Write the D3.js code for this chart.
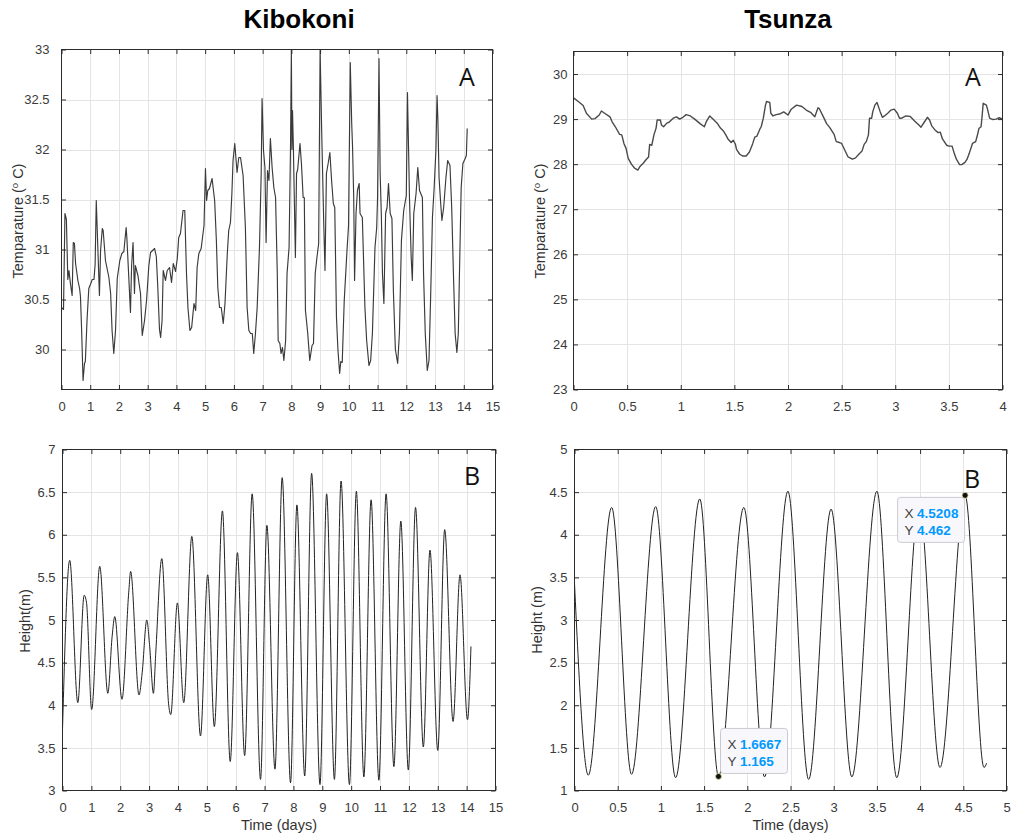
<!DOCTYPE html>
<html>
<head>
<meta charset="utf-8">
<script src="https://cdn.jsdelivr.net/npm/d3@7"></script>
<style>
  body { margin: 0; background: #fff; }
  svg { display: block; font-family: "Liberation Sans", Arial, Helvetica, sans-serif; }
</style>
</head>
<body>
<svg id="chart" width="1011" height="834"></svg>
<script>
// ---------- Kibokoni: water temperature (°C) over time (days) ----------
const kibTempDays = [0.00,0.07,0.12,0.17,0.22,0.26,0.31,0.37,0.41,0.45,0.49,0.57,0.63,0.66,0.70,0.75,0.80,0.83,0.89,0.95,
  1.02,1.07,1.13,1.17,1.21,1.27,1.32,1.36,1.42,1.45,1.53,1.65,1.71,1.76,1.82,1.88,1.94,
  2.03,2.10,2.17,2.25,2.28,2.34,2.40,2.44,2.49,2.54,2.57,2.66,2.75,2.81,2.89,2.96,
  3.04,3.10,3.24,3.30,3.35,3.41,3.45,3.50,3.54,3.62,3.68,3.76,3.83,3.89,3.97,
  4.03,4.08,4.14,4.23,4.29,4.35,4.40,4.47,4.53,4.61,4.67,4.72,4.78,4.86,4.96,
  5.01,5.05,5.09,5.15,5.24,5.33,5.39,5.44,5.50,5.56,5.63,5.69,5.77,5.82,5.88,5.93,5.97,
  6.03,6.11,6.17,6.23,6.32,6.40,6.46,6.52,6.58,6.64,6.69,6.75,6.81,6.89,6.95,6.98,
  7.03,7.08,7.12,7.17,7.22,7.27,7.33,7.39,7.45,7.51,7.54,7.60,7.64,7.69,7.74,7.80,7.85,7.92,7.97,
  8.00,8.02,8.04,8.07,8.14,8.18,8.22,8.30,8.35,8.41,8.45,8.49,8.57,8.64,8.72,8.77,8.83,8.89,8.95,
  9.00,9.05,9.07,9.13,9.17,9.22,9.28,9.34,9.40,9.46,9.51,9.57,9.62,9.68,9.72,9.77,9.84,9.93,9.99,
  10.05,10.10,10.13,10.17,10.20,10.25,10.30,10.36,10.39,10.47,10.56,10.62,10.70,10.76,10.82,10.91,10.97,
  11.00,11.05,11.09,11.13,11.17,11.22,11.28,11.33,11.38,11.44,11.50,11.55,11.62,11.70,11.76,11.83,11.91,
  12.00,12.04,12.08,12.11,12.17,12.21,12.26,12.34,12.40,12.46,12.56,12.60,12.66,12.73,12.79,12.85,12.91,12.97,
  13.03,13.07,13.10,13.14,13.19,13.24,13.30,13.38,13.44,13.52,13.58,13.64,13.70,13.76,13.81,13.85,13.91,13.97,
  14.05,14.09,14.12];
const kibTempC = [30.42,30.40,31.36,31.30,30.70,30.79,30.66,30.54,31.07,31.06,30.86,30.69,30.61,30.53,30.20,29.69,29.86,29.88,30.30,30.61,
  30.66,30.70,30.70,30.85,31.49,30.97,30.54,30.99,31.21,31.19,30.89,30.72,30.56,30.19,29.96,30.19,30.71,
  30.89,30.96,30.98,31.22,31.09,30.73,30.37,30.84,31.07,30.56,30.84,30.74,30.56,30.14,30.29,30.49,
  30.84,30.97,31.01,30.93,30.63,30.20,30.12,30.29,30.79,30.69,30.79,30.82,30.67,30.86,30.78,
  30.91,31.12,31.16,31.39,31.39,30.76,30.42,30.19,30.22,30.46,30.39,30.82,30.96,31.01,31.24,
  31.81,31.49,31.59,31.61,31.71,31.49,31.09,30.62,30.42,30.42,30.26,30.46,30.96,31.19,31.27,31.56,31.89,
  32.06,31.77,31.92,31.92,31.74,31.22,30.42,30.19,30.16,30.16,29.96,30.16,30.42,31.02,31.76,32.51,
  31.99,31.82,31.07,31.79,31.69,32.11,31.82,31.62,31.52,30.76,30.09,30.06,29.96,30.02,29.89,30.09,30.76,31.02,32.02,
  33.00,32.00,32.39,32.02,30.92,31.76,31.80,32.06,31.86,31.52,31.52,30.39,30.16,29.89,30.04,30.06,30.76,30.92,31.06,
  33.00,32.26,31.99,31.22,30.79,31.76,31.86,31.97,31.69,31.46,31.42,30.32,30.00,29.76,29.88,29.87,30.49,30.96,31.24,
  32.87,32.26,32.02,31.52,30.69,31.36,31.59,31.66,31.36,31.32,30.42,30.09,29.84,29.89,30.16,31.02,31.22,
  31.52,32.91,31.76,31.36,30.76,30.46,31.36,31.42,31.66,31.36,31.31,30.59,30.00,29.86,30.16,31.09,31.39,
  31.54,32.57,31.99,31.52,30.92,30.69,31.36,31.56,31.82,31.59,31.52,30.76,30.16,29.79,29.89,30.56,31.32,31.62,
  31.99,32.54,32.29,31.72,31.49,31.29,31.42,31.72,31.89,31.84,31.42,30.76,30.16,29.97,30.16,30.76,31.62,31.86,
  31.91,31.94,32.21];

// ---------- Tsunza: water temperature (°C) over time (days) ----------
const tsuTempDays = [0.00,0.05,0.09,0.12,0.17,0.20,0.24,0.26,0.29,0.34,0.36,0.39,0.43,0.45,0.47,0.49,0.51,0.54,0.57,0.60,
  0.62,0.65,0.68,0.70,0.71,0.73,0.75,0.77,0.78,0.81,0.82,0.84,0.87,0.89,0.93,0.96,0.99,1.02,1.05,1.09,
  1.13,1.18,1.22,1.24,1.27,1.30,1.34,1.37,1.40,1.42,1.44,1.47,1.49,1.51,1.52,1.55,1.58,1.61,1.64,1.67,
  1.69,1.71,1.74,1.75,1.77,1.79,1.80,1.83,1.84,1.86,1.89,1.93,1.96,
  2.00,2.03,2.08,2.13,2.17,2.21,2.25,2.28,2.29,2.33,2.36,2.39,2.43,2.45,2.48,2.50,2.53,2.56,2.60,2.63,
  2.66,2.69,2.71,2.73,2.75,2.76,2.78,2.79,2.81,2.83,2.86,2.88,2.90,2.93,2.96,2.99,
  3.02,3.04,3.06,3.10,3.14,3.18,3.22,3.24,3.27,3.30,3.32,3.34,3.37,3.40,3.42,3.44,3.48,3.50,3.53,3.55,
  3.57,3.60,3.62,3.65,3.67,3.69,3.72,3.75,3.77,3.78,3.80,3.81,3.82,3.85,3.86,3.88,3.91,3.94,3.97,4.00];
const tsuTempC = [29.47,29.38,29.30,29.13,29.00,29.01,29.09,29.18,29.13,29.05,28.94,28.83,28.66,28.65,28.46,28.35,28.13,28.00,27.91,27.87,
  27.95,28.02,28.11,28.16,28.44,28.42,28.65,28.80,28.98,28.98,28.87,28.83,28.91,28.93,29.02,29.05,29.00,29.04,29.10,29.07,
  29.00,28.90,28.83,28.95,29.07,29.00,28.91,28.80,28.73,28.65,28.56,28.48,28.53,28.44,28.33,28.22,28.18,28.18,28.27,28.45,
  28.60,28.62,28.79,28.83,29.02,29.31,29.39,29.37,29.13,29.07,29.10,29.12,29.16,
  29.09,29.22,29.31,29.28,29.20,29.15,29.05,29.25,29.24,29.05,28.90,28.81,28.66,28.50,28.48,28.46,28.31,28.16,28.11,28.14,
  28.22,28.29,28.44,28.50,28.65,29.02,29.02,29.16,29.31,29.37,29.16,29.04,29.07,29.13,29.20,29.22,
  29.13,29.02,29.02,29.07,29.06,28.96,28.87,28.82,28.93,29.04,28.98,28.85,28.76,28.70,28.71,28.56,28.42,28.40,28.40,28.24,
  28.11,27.99,27.99,28.04,28.11,28.24,28.46,28.50,28.68,28.79,28.83,29.07,29.35,29.31,29.22,29.02,28.99,29.00,29.03,29.00];

// ---------- Kibokoni: water height (m), high and low waters ----------
const kibHeightDays = [0.00,0.25,0.53,0.75,0.83,1.01,1.29,1.57,1.72,1.81,2.06,2.30,2.36,2.65,2.76,2.92,3.02,3.15,3.23,3.44,
  3.68,3.75,3.98,4.20,4.48,4.78,5.03,5.26,5.54,5.81,6.06,6.31,6.57,6.86,7.08,7.36,7.61,7.90,8.12,8.39,
  8.63,8.92,9.15,9.42,9.65,9.94,10.18,10.44,10.69,10.96,11.21,11.48,11.72,11.98,12.23,12.50,12.73,13.00,13.24,13.53,
  13.77,14.03,14.15];
const kibHeightM = [3.71,5.70,4.03,5.29,5.21,3.95,5.63,4.14,4.81,5.04,4.07,5.35,5.57,4.12,4.38,5.00,4.69,4.14,4.61,5.72,
  4.00,3.89,5.20,4.03,5.98,3.64,5.53,3.75,6.28,3.34,5.79,3.41,6.48,3.13,6.11,3.25,6.67,3.09,6.35,3.17,
  6.72,3.07,6.48,3.13,6.63,3.07,6.51,3.16,6.41,3.12,6.48,3.28,6.16,3.24,6.32,3.51,5.82,3.47,6.06,3.81,
  5.53,3.83,4.69];

// ---------- Tsunza: water height (m), high and low waters ----------
const tsuHeightDays = [0.00,0.16,0.43,0.66,0.94,1.17,1.45,1.6667,1.96,2.20,2.47,2.71,2.97,3.21,3.50,3.73,3.99,4.23,4.5208,4.74,4.77];
const tsuHeightM    = [3.43,1.18,4.32,1.19,4.33,1.15,4.42,1.165,4.32,1.16,4.51,1.13,4.30,1.16,4.51,1.15,4.36,1.27,4.462,1.27,1.32];

// ---------- data tips on the Tsunza height panel ----------
const tipX = [1.6667, 4.5208];
const tipY = [1.165, 4.462];
const tipSide = ["upRight", "downLeft"];

// ---------- tick values ----------
const kibDayTicks = d3.range(0, 16, 1);
const tsuTempDayTicks = [0, 0.5, 1, 1.5, 2, 2.5, 3, 3.5, 4];
const tsuHeightDayTicks = [0, 0.5, 1, 1.5, 2, 2.5, 3, 3.5, 4, 4.5, 5];
const kibTempTicks = [30, 30.5, 31, 31.5, 32, 32.5, 33];
const tsuTempTicks = [23, 24, 25, 26, 27, 28, 29, 30];
const kibHeightTicks = [3, 3.5, 4, 4.5, 5, 5.5, 6, 6.5, 7];
const tsuHeightTicks = [1, 1.5, 2, 2.5, 3, 3.5, 4, 4.5, 5];

const svg = d3.select("#chart");
const AXIS = "#2b2b2b", GRID = "#e4e4e4", TICKTXT = "#3a3a3a";

function panel(o) {
  const x = d3.scaleLinear().domain(o.xDomain).range([o.left, o.right]);
  const y = d3.scaleLinear().domain(o.yDomain).range([o.bottom, o.top]);
  const g = svg.append("g");

  // grid
  g.append("g").selectAll("line").data(o.xTicks.filter(t => t > o.xDomain[0] && t < o.xDomain[1])).join("line")
    .attr("x1", d => Math.round(x(d)) + 0.5).attr("x2", d => Math.round(x(d)) + 0.5)
    .attr("y1", o.top).attr("y2", o.bottom).attr("stroke", GRID).attr("stroke-width", 1);
  g.append("g").selectAll("line").data(o.yTicks.filter(t => t > o.yDomain[0] && t < o.yDomain[1])).join("line")
    .attr("y1", d => Math.round(y(d)) + 0.5).attr("y2", d => Math.round(y(d)) + 0.5)
    .attr("x1", o.left).attr("x2", o.right).attr("stroke", GRID).attr("stroke-width", 1);

  // data line
  const line = d3.line().x((d, i) => x(o.xs[i])).y((d, i) => y(o.ys[i])).curve(o.curve);
  g.append("path").datum(o.ys).attr("d", line).attr("fill", "none")
    .attr("stroke", o.lineColor).attr("stroke-width", o.lineWidth).attr("stroke-linejoin", "round");

  // axes with inward ticks on all four sides
  const ts = 4.5;
  const fmt = d3.format("~g");
  const bottom = g.append("g").attr("transform", `translate(0,${o.bottom})`)
    .call(d3.axisBottom(x).tickValues(o.xTicks).tickSizeInner(-ts).tickSizeOuter(0).tickPadding(o.xPad).tickFormat(fmt));
  const left = g.append("g").attr("transform", `translate(${o.left},0)`)
    .call(d3.axisLeft(y).tickValues(o.yTicks).tickSizeInner(-ts).tickSizeOuter(0).tickPadding(o.yPad).tickFormat(fmt));
  const top = g.append("g").attr("transform", `translate(0,${o.top})`)
    .call(d3.axisTop(x).tickValues(o.xTicks).tickSizeInner(-ts).tickSizeOuter(0).tickFormat(""));
  const right = g.append("g").attr("transform", `translate(${o.right},0)`)
    .call(d3.axisRight(y).tickValues(o.yTicks).tickSizeInner(-ts).tickSizeOuter(0).tickFormat(""));
  [bottom, left, top, right].forEach(a => {
    a.select(".domain").remove();
    a.selectAll(".tick line").attr("stroke", AXIS);
    a.selectAll(".tick text").attr("fill", TICKTXT).style("font-size", "13px")
      .style("font-family", '"Liberation Sans", Arial, sans-serif');
  });

  // frame
  g.append("rect").attr("x", o.left).attr("y", o.top)
    .attr("width", o.right - o.left).attr("height", o.bottom - o.top)
    .attr("fill", "none").attr("stroke", AXIS).attr("stroke-width", 1);

  // panel letter
  g.append("text").attr("x", o.letterX).attr("y", o.letterY).attr("text-anchor", "middle")
    .style("font-family", '"Open Sans", "Liberation Sans", sans-serif').style("font-size", "25px")
    .attr("fill", "#111").text(o.letter);

  // y axis label
  const yl = g.append("text").attr("transform", `translate(${o.yLabelX},${o.yLabelY}) rotate(-90)`)
    .attr("text-anchor", "middle").attr("fill", "#333").style("font-size", "14.5px")
    .style("white-space", "pre");
  if (o.yLabelSup) {
    yl.append("tspan").text(o.yLabel[0]);
    yl.append("tspan").attr("baseline-shift", "super").style("font-size", "9.5px").text(o.yLabelSup);
    yl.append("tspan").text("\u00A0" + o.yLabel[1]);
  } else {
    yl.text(o.yLabel);
  }

  // x axis label
  if (o.xLabel) {
    g.append("text").attr("x", (o.left + o.right) / 2).attr("y", o.xLabelY).attr("text-anchor", "middle")
      .attr("fill", "#333").style("font-size", "14.5px").text(o.xLabel);
  }
  return { x, y, g };
}

// titles
svg.append("text").attr("x", 299).attr("y", 28).attr("text-anchor", "middle")
  .style("font-size", "26px").style("font-weight", "bold").attr("fill", "#000").text("Kibokoni");
svg.append("text").attr("x", 788).attr("y", 28).attr("text-anchor", "middle")
  .style("font-size", "26px").style("font-weight", "bold").attr("fill", "#000").text("Tsunza");

panel({
  left: 61.5, right: 492.5, top: 49.5, bottom: 389.5,
  xDomain: [0, 15], yDomain: [29.6, 33], xTicks: kibDayTicks, yTicks: kibTempTicks,
  xs: kibTempDays, ys: kibTempC, curve: d3.curveLinear, lineColor: "#3a3a3a", lineWidth: 1.15,
  xPad: 12, yPad: 12, letter: "A", letterX: 467, letterY: 86,
  yLabel: ["Temparature (", "C)"], yLabelSup: "o", yLabelX: 23, yLabelY: 221
});

panel({
  left: 573.5, right: 1002.5, top: 51.5, bottom: 389.5,
  xDomain: [0, 4], yDomain: [23, 30.5], xTicks: tsuTempDayTicks, yTicks: tsuTempTicks,
  xs: tsuTempDays, ys: tsuTempC, curve: d3.curveLinear, lineColor: "#4a4a4a", lineWidth: 1.4,
  xPad: 12, yPad: 6, letter: "A", letterX: 973, letterY: 86,
  yLabel: ["Temparature (", "C)"], yLabelSup: "o", yLabelX: 545, yLabelY: 221
});

panel({
  left: 62.5, right: 495.5, top: 449.5, bottom: 790.5,
  xDomain: [0, 15], yDomain: [3, 7], xTicks: kibDayTicks, yTicks: kibHeightTicks,
  xs: kibHeightDays, ys: kibHeightM, curve: d3.curveMonotoneX, lineColor: "#222", lineWidth: 1.0,
  xPad: 12, yPad: 7, letter: "B", letterX: 472, letterY: 485,
  yLabel: "Height(m)", yLabelX: 30, yLabelY: 621,
  xLabel: "Time (days)", xLabelY: 830
});

const tb = panel({
  left: 574.5, right: 1006.5, top: 449.5, bottom: 790.5,
  xDomain: [0, 5], yDomain: [1, 5], xTicks: tsuHeightDayTicks, yTicks: tsuHeightTicks,
  xs: tsuHeightDays, ys: tsuHeightM, curve: d3.curveMonotoneX, lineColor: "#222", lineWidth: 1.0,
  xPad: 12, yPad: 7, letter: "B", letterX: 972, letterY: 488,
  yLabel: "Height (m)", yLabelX: 542, yLabelY: 620,
  xLabel: "Time (days)", xLabelY: 830
});

// data tips
const boxW = 67, boxH = 45;
tipX.forEach((vx, i) => {
  const px = tb.x(vx), py = tb.y(tipY[i]);
  const bx = tipSide[i] === "upRight" ? px + 2 : px - boxW - 0.5;
  const by = tipSide[i] === "upRight" ? py - boxH - 3 : py + 2;
  const tg = tb.g.append("g");
  tg.append("rect").attr("x", bx).attr("y", by).attr("width", boxW).attr("height", boxH)
    .attr("rx", 3).attr("fill", "#f8f8fc").attr("stroke", "#c9c9cf").attr("stroke-width", 1);
  const rows = [["X", d3.format("")(vx)], ["Y", d3.format("")(tipY[i])]];
  rows.forEach((r, k) => {
    const t = tg.append("text").attr("x", bx + 7).attr("y", by + 20.5 + k * 16.7).style("font-size", "13.5px");
    t.append("tspan").attr("fill", "#404040").text(r[0]);
    t.append("tspan").attr("x", bx + 19.5).attr("fill", "#0099ff").style("font-weight", "bold").text(r[1]);
  });
  tg.append("circle").attr("cx", px).attr("cy", py).attr("r", 3)
    .attr("fill", "#111").attr("stroke", "#e9e2a0").attr("stroke-width", 0.8);
});
</script>
</body>
</html>
